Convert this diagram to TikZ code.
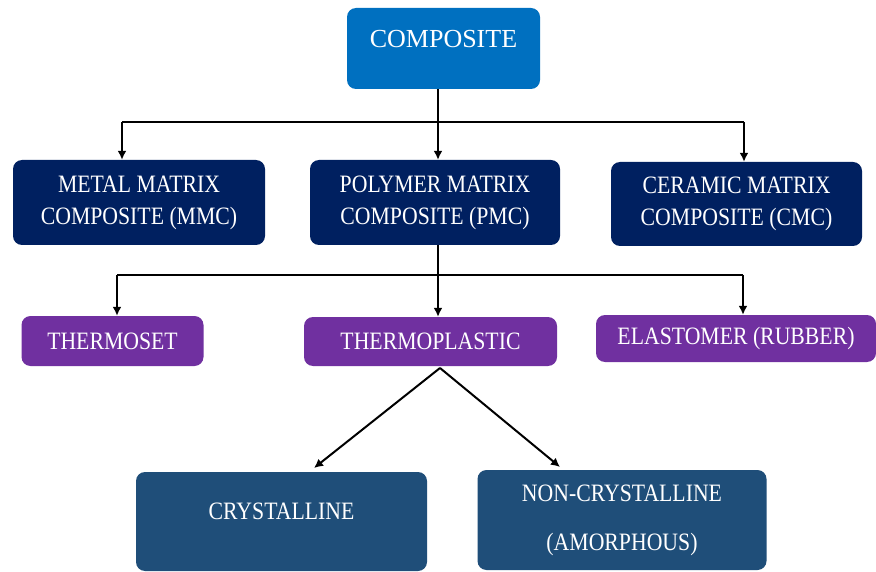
\documentclass[tikz,border=0pt]{standalone}
\usepackage{fontspec}
\setmainfont{Liberation Serif}[FakeStretch=0.87]
\newfontfamily\topfont{Liberation Serif}
\usetikzlibrary{arrows.meta}
\definecolor{cTop}{HTML}{0070C0}
\definecolor{cMat}{HTML}{002060}
\definecolor{cPoly}{HTML}{7030A0}
\definecolor{cCry}{HTML}{1F4E79}
\begin{document}
\begin{tikzpicture}[x=1pt,y=-1pt,
  box/.style={rounded corners=9pt, text=white, inner sep=0pt, align=center,
              font=\fontsize{25}{32}\selectfont},
  topbox/.style={box, fill=cTop, font=\topfont\fontsize{26}{32}\selectfont},
  matbox/.style={box, fill=cMat},
  polybox/.style={box, fill=cPoly},
  crybox/.style={box, fill=cCry},
  conn/.style={line width=2pt, black},
  arr/.style={conn, -{Latex[length=9pt,width=9pt]}}]
\useasboundingbox (0,0) rectangle (876,572);
\fill[white] (0,0) rectangle (876,572);

\node[topbox, minimum width=193pt, minimum height=81pt] (comp) at (443.5,48.5)
  {\raisebox{1pt}[0pt][0pt]{COMPOSITE}};

\node[matbox, minimum width=252pt, minimum height=85pt] (mmc) at (139,202.5)
  {METAL MATRIX\\COMPOSITE (MMC)};
\node[matbox, minimum width=250pt, minimum height=85pt] (pmc) at (435,202.5)
  {POLYMER MATRIX\\COMPOSITE (PMC)};
\node[matbox, minimum width=251pt, minimum height=84pt] (cmc) at (736.5,204)
  {CERAMIC MATRIX\\COMPOSITE (CMC)};

\node[polybox, minimum width=182pt, minimum height=50pt] (tset) at (112.5,341)
  {THERMOSET};
\node[polybox, minimum width=253pt, minimum height=49pt] (tplast) at (430.5,341.5)
  {THERMOPLASTIC};
\node[polybox, minimum width=280pt, minimum height=47pt] (elast) at (736,338.5)
  {\raisebox{-1.5pt}{ELASTOMER (RUBBER)}};

\node[crybox, minimum width=291pt, minimum height=99pt] (cry) at (281.5,521.5)
  {\raisebox{1.7pt}[0pt][0pt]{CRYSTALLINE}};
\node[crybox, minimum width=289pt, minimum height=100pt,
      font=\fontsize{25}{49}\selectfont] (ncry) at (622,520)
  {NON-CRYSTALLINE\\(AMORPHOUS)};

% level 1 connectors
\coordinate (j1) at (438,122);
\coordinate (j1l) at (122,122);
\coordinate (j1r) at (744,122);
\draw[conn] (comp.south -| j1) -- (j1);
\draw[conn] (j1l) -- (j1r);
\draw[arr] (j1l) -- (j1l |- mmc.north);
\draw[arr] (j1) -- (j1 |- pmc.north);
\draw[arr] (j1r) -- (j1r |- cmc.north);

% level 2 connectors
\coordinate (j2) at (438,275);
\coordinate (j2l) at (117,275);
\coordinate (j2r) at (743,275);
\draw[conn] (pmc.south -| j2) -- (j2);
\draw[conn] (j2l) -- (j2r);
\draw[arr] (j2l) -- (j2l |- tset.north);
\draw[arr] (j2) -- (j2 |- tplast.north);
\draw[arr] (j2r) -- (j2r |- elast.north);

% level 3 connectors
\coordinate (apex) at (440,368);
\coordinate (tipl) at (314,468);
\coordinate (tipr) at (560,467);
\draw[arr] (apex) -- (tipl);
\draw[arr] (apex) -- (tipr);
\end{tikzpicture}
\end{document}
